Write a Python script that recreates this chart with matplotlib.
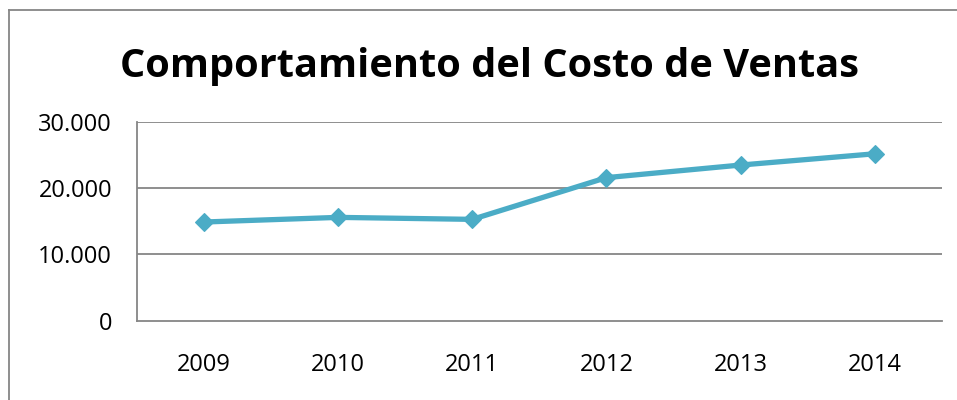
import matplotlib
matplotlib.use("Agg")
import matplotlib.pyplot as plt
from matplotlib.lines import Line2D

years = ["2009", "2010", "2011", "2012", "2013", "2014"]
costo_ventas = [14900, 15600, 15300, 21600, 23500, 25200]
y_ticks = [0, 10000, 20000, 30000]
y_tick_labels = ["0", "10.000", "20.000", "30.000"]

W, H = 957, 400
fig = plt.figure(figsize=(W / 100, H / 100), dpi=100)
ax = fig.add_axes([137 / W, 1 - 320.7 / H, (941.7 - 137) / W, (320.7 - 122) / H])

grid_c = "#868686"
ax.plot(range(len(years)), costo_ventas, color="#4BACC6", lw=3.8,
        marker="D", ms=9.5, mec="#4BACC6", mew=0.8, zorder=3)

ax.set_xlim(-0.5, len(years) - 0.5)
ax.set_ylim(0, 30000)
ax.set_yticks(y_ticks)
ax.set_yticklabels(y_tick_labels)
ax.set_xticks(range(len(years)))
ax.set_xticklabels(years)
for y in y_ticks[1:]:
    ax.axhline(y, color=grid_c, lw=1.3, zorder=1)

for s in ["top", "right"]:
    ax.spines[s].set_visible(False)
for s in ["left", "bottom"]:
    ax.spines[s].set_color(grid_c)
    ax.spines[s].set_linewidth(1.3)

ax.tick_params(axis="both", length=0, labelsize=17, colors="black")
ax.tick_params(axis="y", pad=18)
ax.tick_params(axis="x", pad=23)
for lab in ax.get_xticklabels() + ax.get_yticklabels():
    lab.set_family("Open Sans")

fig.text(490 / W, 1 - 76.7 / H, "Comportamiento del Costo de Ventas",
         ha="center", va="baseline", fontsize=28.6, fontweight="bold",
         family="Open Sans")

# chart frame (only left and top edges fall inside the picture)
fig.add_artist(Line2D([9 / W, 9 / W], [0, 1 - 10 / H], color=grid_c, lw=1.3))
fig.add_artist(Line2D([9 / W, 1], [1 - 10 / H, 1 - 10 / H], color=grid_c, lw=1.3))

fig.savefig("out.png", dpi=100, facecolor="white")
